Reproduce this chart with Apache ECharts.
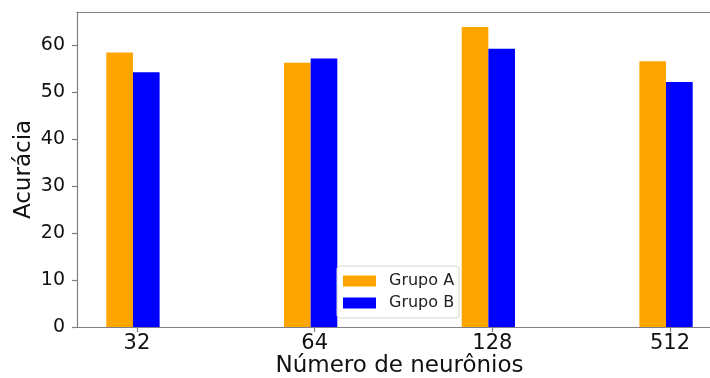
<!DOCTYPE html>
<html>
<head>
<meta charset="utf-8">
<script src="https://cdn.jsdelivr.net/npm/echarts@6/dist/echarts.min.js"></script>
<style>
  html, body { margin: 0; padding: 0; background: #fff; }
  #chart { width: 710px; height: 378px; }
</style>
</head>
<body>
<div id="chart"></div>
<script>
// Accuracy per hidden-layer size, two groups
const categories = ['32', '64', '128', '512'];
const grupoA = [58.4, 56.2, 63.8, 56.5];
const grupoB = [54.2, 57.1, 59.2, 52.1];
const yTicks = [0, 10, 20, 30, 40, 50, 60];

const FONT = 'DejaVu Sans';
const SPINE = '#808080';
const BAR_W = 0.15;          // bar width in category units
const TICK_SHIFT = 0.0225;   // tick marks sit a little right of the bar pair seam
const X_MIN = -0.315, X_MAX = 3.315;
const positions = categories.map((_, i) => i);
const tickPositions = positions.map(p => p + TICK_SHIFT);

// each group sits half a bar to either side of its category position
const toPoints = (vals, shift) => vals.map((v, i) => [positions[i] + shift, v]);

const chart = echarts.init(document.getElementById('chart'), null, { renderer: 'canvas' });
const PLOT_W = 710 - 77 + 12;
const barPx = BAR_W * PLOT_W / (X_MAX - X_MIN);

chart.setOption({
  animation: false,
  backgroundColor: '#fff',
  grid: { left: 77, top: 12, right: -12, bottom: 51, outerBoundsMode: 'none' },
  legend: {
    orient: 'vertical',
    left: 337,
    top: 266,
    padding: [7, 5, 7, 6],
    itemWidth: 33,
    itemHeight: 11,
    itemGap: 6,
    icon: 'rect',
    borderColor: '#d6d6d6',
    borderWidth: 1,
    borderRadius: 3,
    backgroundColor: 'rgba(255,255,255,0.85)',
    textStyle: { fontFamily: FONT, fontSize: 16, color: '#222', lineHeight: 16, padding: [0, 0, 0, 8] },
    data: ['Grupo A', 'Grupo B']
  },
  xAxis: [
    {
      type: 'value',
      min: X_MIN,
      max: X_MAX,
      name: 'Número de neurônios',
      nameLocation: 'middle',
      nameGap: 28,
      nameMoveOverlap: false,
      nameTextStyle: { fontFamily: FONT, fontSize: 23, color: '#111', verticalAlign: 'top' },
      splitLine: { show: false },
      axisLine: { show: true, onZero: false, lineStyle: { color: SPINE, width: 1.2 } },
      axisTick: { show: true, length: 5, lineStyle: { color: SPINE, width: 1.2 }, customValues: tickPositions },
      axisLabel: {
        fontFamily: FONT, fontSize: 21, color: '#111', margin: 6,
        customValues: tickPositions,
        formatter: v => categories[Math.round(v)]
      }
    },
    {
      type: 'value',
      position: 'top',
      min: X_MIN,
      max: X_MAX,
      splitLine: { show: false },
      axisLine: { show: true, onZero: false, lineStyle: { color: SPINE, width: 1.2 } },
      axisTick: { show: false },
      axisLabel: { show: false }
    }
  ],
  yAxis: {
    type: 'value',
    min: 0,
    max: 67,
    name: 'Acurácia',
    nameLocation: 'middle',
    nameGap: 41.5,
    nameMoveOverlap: false,
    nameTextStyle: { fontFamily: FONT, fontSize: 23, color: '#111' },
    splitLine: { show: false },
    axisLine: { show: true, onZero: false, lineStyle: { color: SPINE, width: 1.2 } },
    axisTick: { show: true, length: 5, lineStyle: { color: SPINE, width: 1.2 }, customValues: yTicks },
    axisLabel: { fontFamily: FONT, fontSize: 19, color: '#111', margin: 12, customValues: yTicks }
  },
  series: [
    {
      name: 'Grupo A',
      type: 'bar',
      xAxisIndex: 0,
      barWidth: barPx,
      barGap: '-100%',
      itemStyle: { color: '#FFA500' },
      data: toPoints(grupoA, -BAR_W / 2)
    },
    {
      name: 'Grupo B',
      type: 'bar',
      xAxisIndex: 0,
      barWidth: barPx,
      barGap: '-100%',
      itemStyle: { color: '#0000FF' },
      data: toPoints(grupoB, BAR_W / 2)
    }
  ]
});
</script>
</body>
</html>
